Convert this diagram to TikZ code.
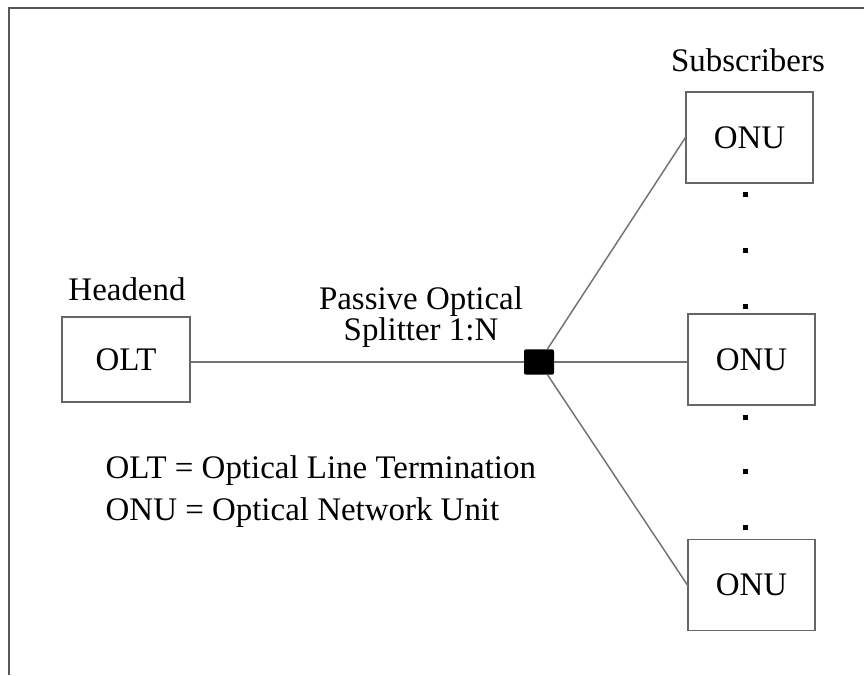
\documentclass[tikz,border=0pt]{standalone}
\usepackage{fontspec}
\setmainfont{Liberation Serif}
\usetikzlibrary{positioning}

\begin{document}
\begin{tikzpicture}[x=0.75pt, y=-0.75pt,
	every node/.style={font=\fontsize{24.7}{29}\selectfont},
	unitbox/.style={draw=black!60, line width=1.1pt, rectangle, minimum width=95pt, minimum height=68pt, inner sep=0pt},
	fibre/.style={draw=black!55, line width=1.1pt}]
	\useasboundingbox (0,0) rectangle (864,675);
	\draw[black!65, line width=1.6pt] (9,675) -- (9,8) -- (864,8);

	\node [unitbox, minimum width=96pt, minimum height=64pt] (olt) at (126,359.5) {OLT};
	\node (headend) at (127,289) {Headend};

	\node [fill=black, rounded corners=1.5pt, minimum width=22.5pt, minimum height=19pt, inner sep=0pt] (split) at (539,362) {};
	\node [align=center, font=\fontsize{24.7}{23.5}\selectfont] (splitlabel) at (421,317) {Passive Optical\\Splitter 1:N};

	\node (subs) at (748,60) {Subscribers};
	\node [unitbox] (onu1) at (749.5,137.5) {ONU};
	\node [unitbox] (onu2) at (751.5,359.5) {ONU};
	\node [unitbox] (onu3) at (751.5,585) {ONU};

	\draw [fibre] (olt.east |- split) -- (split);
	\draw [fibre] (split) -- (onu1.west);
	\draw [fibre] (split) -- (split -| onu2.west);
	\draw [fibre] (split) -- (onu3.west);

	% dots between the subscribers
	\foreach \y in {194,250,306,417,471,527}
		\fill (742.5,\y-2.5) rectangle ++(5,5);

	\node [anchor=west, align=left, font=\fontsize{24.7}{31.5}\selectfont] (legend) at (101,492) {OLT = Optical Line Termination\\ONU = Optical Network Unit};
\end{tikzpicture}
\end{document}
